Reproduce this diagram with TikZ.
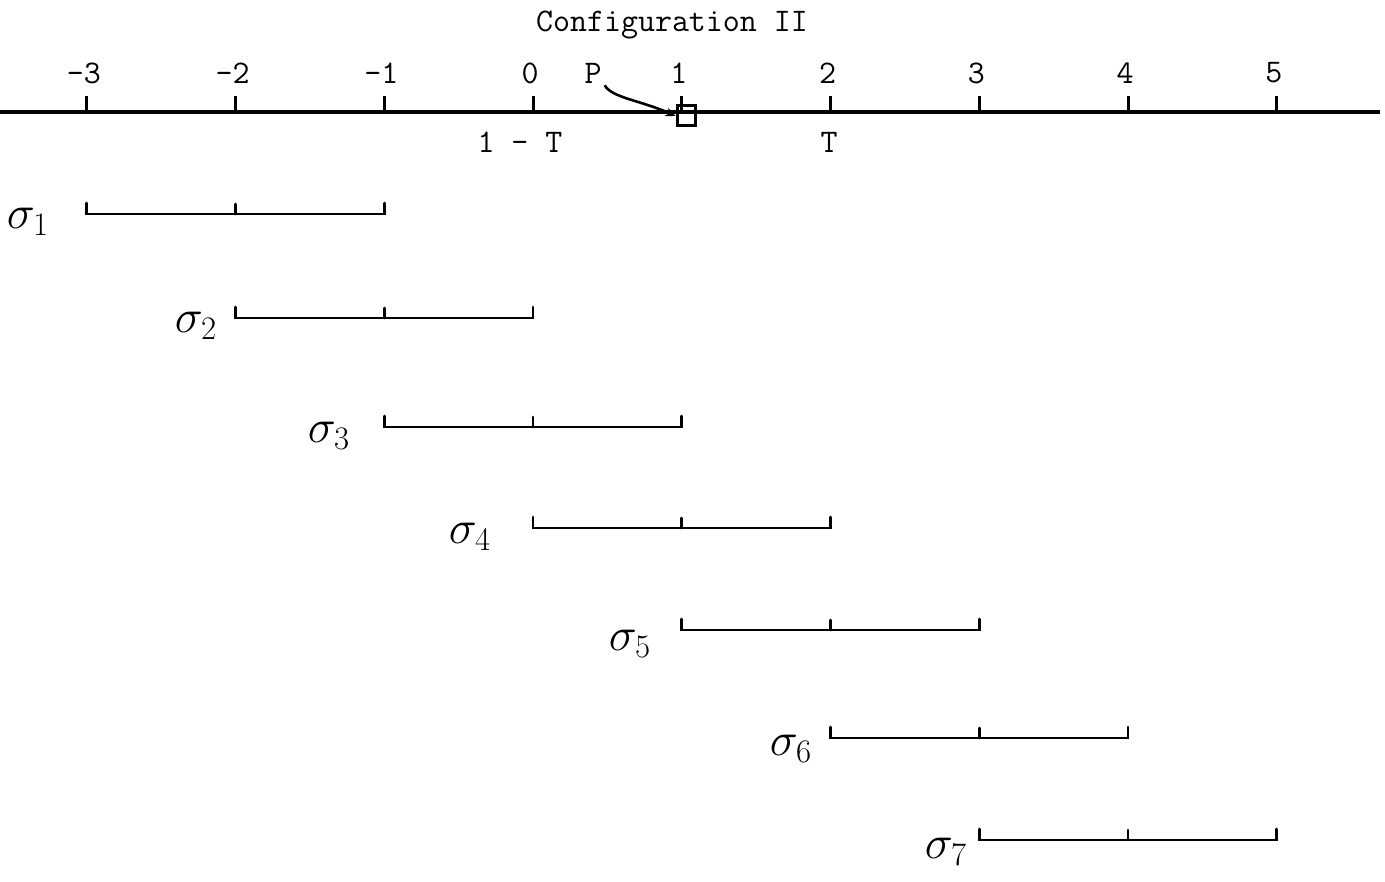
\documentclass[tikz,border=0pt]{standalone}
\usetikzlibrary{arrows.meta}
\begin{document}
\begin{tikzpicture}[x=1pt,y=-1pt,
  tw/.style={font=\ttfamily\fontsize{33}{39}\selectfont, inner sep=0pt},
  axisline/.style={line width=3.4pt},
  axtick/.style={line width=3pt},
  ival/.style={line width=2.8pt, line cap=round},
  siglab/.style={font=\fontsize{24}{28}\selectfont, scale=1.9, inner sep=0pt}]
\useasboundingbox (0,0) rectangle (1385,882);
% axis
\coordinate (L) at (0,112);
\coordinate (R) at (1380,112);
\draw[axisline] (L) -- (R);
\foreach \n/\lab in {-3/-3,-2/-2,-1/-1,0/0,1/1,2/2,3/3,4/4,5/5}{
  \coordinate (t\n) at ({533+148.75*\n},112);
  \draw[axtick] (t\n) -- ++(0,-16);
  \node[tw] (lab\n) at ({533+148.75*\n-3},73) {\lab};
}
\node[tw] (title) at (672,25) {Configuration II};
\node[tw] (P) at (593,73) {P};
\node[draw, line width=3pt, minimum width=18pt, minimum height=20pt, inner sep=0pt] (sq) at (686,116) {};
\draw[line width=2.6pt, -{Stealth[length=10pt,width=9pt]}] (P.south east) ++(3,2) .. controls (612,98) and (640,100) .. (sq.west);
\node[tw] (oneminusT) at (520,142) {1 - T};
\node[tw] (T) at (829,142) {T};
% intervals
\foreach \i/\a/\y/\lx/\ly in {1/-3/214/28/222, 2/-2/318/196/326, 3/-1/427/329/436, 4/0/528/470/537, 5/1/630/630/644, 6/2/738/791/749, 7/3/840/946/852}{
  \pgfmathsetmacro{\xa}{533+148.75*\a}
  \pgfmathsetmacro{\xb}{533+148.75*(\a+1)}
  \pgfmathsetmacro{\xc}{533+148.75*(\a+2)}
  \coordinate (s\i a) at (\xa,\y);
  \coordinate (s\i b) at (\xb,\y);
  \coordinate (s\i c) at (\xc,\y);
  \draw[ival] (s\i a) ++(0,-11) -- (s\i a) -- (s\i c) -- ++(0,-11);
  \draw[ival] (s\i b) -- ++(0,-10);
  \node[siglab] (sig\i) at (\lx,\ly) {$\sigma_{\i}$};
}
\end{tikzpicture}
\end{document}
